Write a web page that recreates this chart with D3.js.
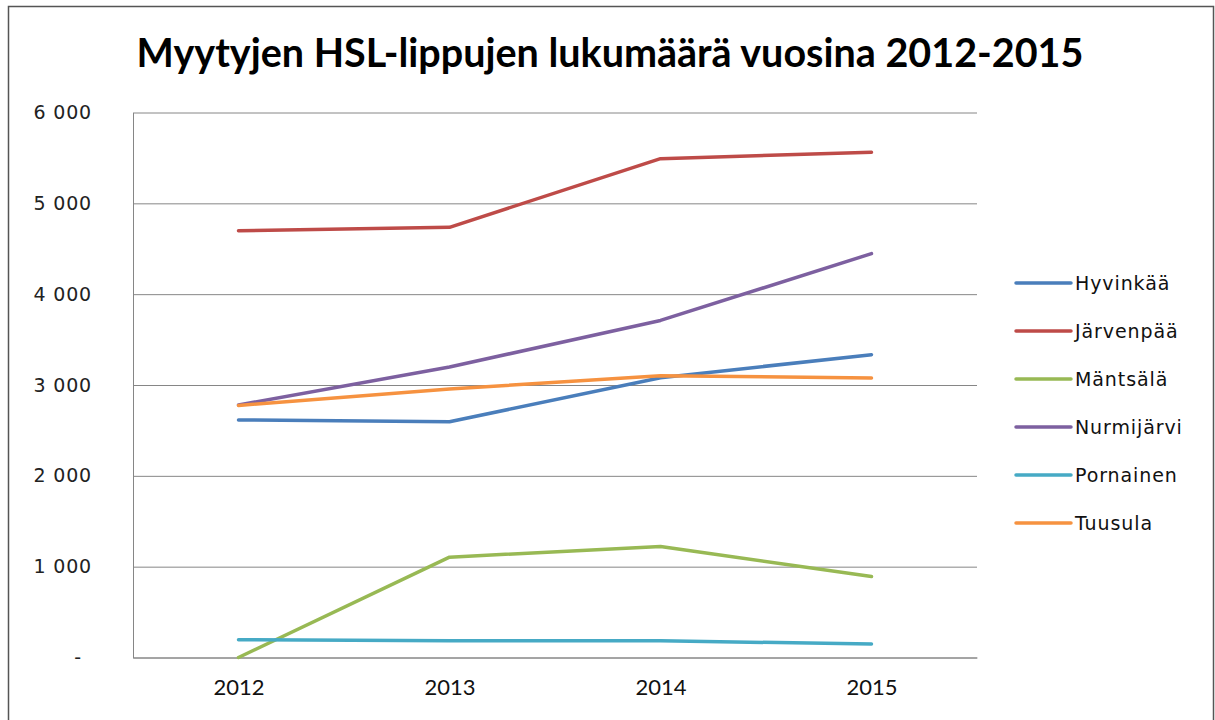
<!DOCTYPE html>
<html>
<head>
<meta charset="utf-8">
<script src="https://cdn.jsdelivr.net/npm/d3@7"></script>
<style>
  body { margin: 0; background: #fff; }
  svg { display: block; }
</style>
</head>
<body>
<div id="wrapper"></div>
<script>
// 1. Data

const years = ["2012", "2013", "2014", "2015"]
const seriesNames = ["Hyvinkää", "Järvenpää", "Mäntsälä", "Nurmijärvi", "Pornainen", "Tuusula"]
const hyvinkaa = [2615, 2596, 3080, 3334]
const jarvenpaa = [4699, 4736, 5492, 5562]
const mantsala = [0, 1105, 1222, 892]
const nurmijarvi = [2780, 3198, 3711, 4446]
const pornainen = [195, 184, 184, 148]
const tuusula = [2775, 2956, 3102, 3077]
const yTicks = [0, 1000, 2000, 3000, 4000, 5000, 6000]
const colors = ["#4A7EBB", "#BE4B48", "#98B954", "#7D60A0", "#46AAC5", "#F69240"]

const dataset = [hyvinkaa, jarvenpaa, mantsala, nurmijarvi, pornainen, tuusula]
  .map((values, i) => ({
    name: seriesNames[i],
    color: colors[i],
    values: values.map((v, j) => ({ year: years[j], value: v })),
  }))

// 2. Dimensions

let dimensions = {
  width: 1215,
  height: 720,
  margin: { top: 112.5, right: 238, bottom: 62.5, left: 133 },
}
dimensions.boundedWidth = dimensions.width - dimensions.margin.left - dimensions.margin.right
dimensions.boundedHeight = dimensions.height - dimensions.margin.top - dimensions.margin.bottom

// 3. Canvas

const wrapper = d3.select("#wrapper")
  .append("svg")
    .attr("width", dimensions.width)
    .attr("height", dimensions.height)

wrapper.append("rect")
    .attr("x", 8.5)
    .attr("y", 6.5)
    .attr("width", 1205)
    .attr("height", 730)
    .attr("fill", "#fff")
    .attr("stroke", "#555")
    .attr("stroke-width", 1.5)

wrapper.append("text")
    .attr("x", 610)
    .attr("y", 67)
    .attr("text-anchor", "middle")
    .style("font-family", "Lato, sans-serif")
    .style("font-weight", "bold")
    .style("font-size", "39.5px")
    .attr("fill", "#000")
    .text("Myytyjen HSL-lippujen lukumäärä vuosina 2012-2015")

const bounds = wrapper.append("g")
    .attr("transform", `translate(${dimensions.margin.left}, ${dimensions.margin.top})`)

// 4. Scales

const xScale = d3.scalePoint()
  .domain(years)
  .range([0, dimensions.boundedWidth])
  .padding(0.5)

const yScale = d3.scaleLinear()
  .domain([0, 6000])
  .range([dimensions.boundedHeight, 0])

// 5. Peripherals

const yAxis = bounds.append("g")
  .call(d3.axisLeft(yScale)
    .tickValues(yTicks)
    .tickSizeInner(-dimensions.boundedWidth)
    .tickSizeOuter(0)
    .tickPadding(41)
    .tickFormat(d => d === 0 ? "-" : d3.format(",")(d).replace(",", " ")))
yAxis.select(".domain").attr("stroke", "#868686")
yAxis.selectAll(".tick line").attr("stroke", "#868686")
yAxis.selectAll(".tick text")
    .attr("fill", "#222")
    .style("font-family", "'DejaVu Sans', sans-serif")
    .style("font-size", "19px")
    .style("letter-spacing", "0.8px")
    .attr("dx", d => d === 0 ? -10 : 0)

const xAxis = bounds.append("g")
    .attr("transform", `translate(0, ${dimensions.boundedHeight})`)
  .call(d3.axisBottom(xScale).tickSize(0).tickPadding(22))
xAxis.select(".domain").attr("stroke", "#868686")
xAxis.selectAll(".tick text")
    .attr("fill", "#111")
    .style("font-family", "Lato, sans-serif")
    .style("font-size", "22px")

// 6. Lines

const lineGenerator = d3.line()
  .x(d => xScale(d.year))
  .y(d => yScale(d.value))

bounds.selectAll(".series")
  .data(dataset)
  .enter().append("path")
    .attr("class", "series")
    .attr("d", d => lineGenerator(d.values))
    .attr("fill", "none")
    .attr("stroke", d => d.color)
    .attr("stroke-width", 3.5)
    .attr("stroke-linejoin", "round")
    .attr("stroke-linecap", "round")

// 7. Legend

const legend = wrapper.append("g")
    .attr("transform", "translate(1016, 283)")

const legendItems = legend.selectAll(".legend-item")
  .data(dataset)
  .enter().append("g")
    .attr("class", "legend-item")
    .attr("transform", (d, i) => `translate(0, ${i * 48})`)

legendItems.append("line")
    .attr("x1", 0)
    .attr("x2", 55)
    .attr("stroke", d => d.color)
    .attr("stroke-width", 3.5)
    .attr("stroke-linecap", "round")

legendItems.append("text")
    .attr("x", 59)
    .attr("dy", "0.36em")
    .attr("fill", "#111")
    .style("font-family", "'DejaVu Sans', sans-serif")
    .style("font-size", "19px")
    .style("letter-spacing", "0.9px")
    .text(d => d.name)
</script>
</body>
</html>
